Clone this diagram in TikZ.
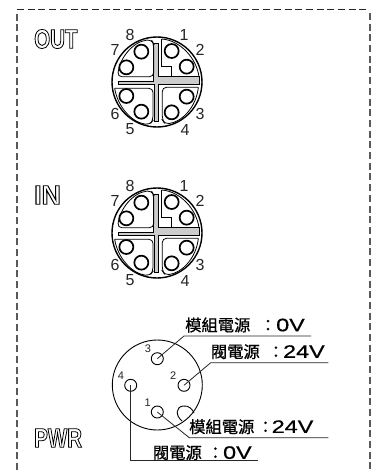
\documentclass[tikz,border=0pt]{standalone}
\usepackage{fontspec}
\setmainfont{Liberation Sans}
\newfontfamily\cjkf{Noto Sans CJK TC}
\newfontfamily\widef[FakeStretch=1.3]{Liberation Sans}
\newfontfamily\boldf[FakeStretch=0.76]{Liberation Sans Bold}
\newcommand{\outl}[1]{\special{pdf:code 1 Tr 0.8 w}#1\special{pdf:code 0 Tr 1 w}}
\newcommand{\heavy}[1]{\special{pdf:code 2 Tr 0.12 w}#1\special{pdf:code 0 Tr 1 w}}
\newcommand{\cj}[1]{{\cjkf\fontsize{16.3}{16}\selectfont\heavy{#1}}}
\newcommand{\lt}[1]{{\widef\fontsize{18}{17}\selectfont\heavy{#1}}}
\tikzset{
  conn/.style={draw=black,line width=0.8pt},
  ring/.style={draw=black,line width=1.4pt},
  pinpt/.style={circle,draw=black,line width=1.7pt,fill=white,minimum size=14pt,inner sep=0pt},
  num/.style={inner sep=0pt,font=\fontsize{16}{16}\selectfont,text=black!85},
  smallnum/.style={inner sep=0pt,font=\fontsize{11}{11}\selectfont,text=black!85},
  smallpin/.style={circle,draw=black,line width=0.9pt,minimum size=12pt,inner sep=0pt},
  lead/.style={draw=black!85,line width=0.8pt},
  labeltxt/.style={inner sep=0pt,anchor=west},
  badge/.style={inner sep=0pt,anchor=west,font=\boldf\fontsize{27}{27}\selectfont},
  frameh/.style={draw=black!85,line width=0.9pt,dash pattern=on 7pt off 3.7pt},
  framev/.style={draw=black!65,line width=1.5pt,dash pattern=on 7pt off 3.7pt}
}
\newcommand{\connector}[3]{%
  \begin{scope}[shift={(#1,#2)},x=0.3333pt,y=-0.3333pt]
    \draw[ring] (0,0) circle (135);
    \draw[line width=0.6pt,fill=black!20] (-117,-3) -- (-10,-3) -- (-10,-116) -- (3,-116) -- (3,-16) -- (128,-16) -- (128,6) -- (3,6) -- (3,118) -- (-8,118) -- (-8,8) -- (-117,8) -- cycle;
    % sector walls
    \draw[conn,rounded corners=4pt] (-118,-16) .. controls (-112,-72) and (-72,-122) .. (-17,-127) -- (-10,-115) -- (-10,-16) -- cycle;
    \draw[conn] (14,-129) -- (14,-46) -- (44,-46) -- (44,-16) -- (126,-16);
    \draw[conn] (14,-129) .. controls (70,-125) and (118,-72) .. (126,-16);
    \draw[conn,rounded corners=4pt] (-127,19) -- (-12,19) -- (-12,115) -- (-22,128) .. controls (-75,122) and (-118,75) .. (-127,19);
    \draw[conn,rounded corners=4pt] (124,16) -- (16,16) -- (16,114) -- (24,126) .. controls (75,120) and (118,75) .. (124,16);
    \foreach \a/\b/\n in {44/-93/a,89/-46/b,89/44/c,44/91/d,-47/89/e,-92/42/f,-92/-44/g,-47/-91/h}
      \node[pinpt] (#3\n) at (\a,\b) {};
  \end{scope}
  \begin{scope}[shift={(#1,#2)}]
    \node[num] (#3n8) at (-27,-47.5) {8};
    \node[num] (#3n1) at (27,-47.5) {1};
    \node[num] (#3n7) at (-42,-32) {7};
    \node[num] (#3n2) at (43,-32) {2};
    \node[num] (#3n6) at (-42,32) {6};
    \node[num] (#3n3) at (43,32) {3};
    \node[num] (#3n5) at (-27,47.5) {5};
    \node[num] (#3n4) at (28,47.5) {4};
  \end{scope}
}
\begin{document}
\begin{tikzpicture}[x=1pt,y=-1pt]
\useasboundingbox (0,0) rectangle (372,470);
\fill[white] (0,0) rectangle (372,470);
\draw[frameh] (17,9) -- (370,9);
\draw[framev] (17,470) -- (17,11);
\draw[framev] (370,13) -- (370,470);

\node[badge] (lout) at (34,39) {\outl{OUT}};
\node[badge] (lin) at (34,195) {\outl{\scalebox{1.3}[1]{IN}}};
\node[badge] (lpwr) at (34,438) {\outl{PWR}};

\connector{157}{82}{o}
\connector{157}{233}{i}

% PWR connector
\draw[line width=0.9pt] (157.3,385) circle (45);
\node[smallpin] (p3) at (157.3,358.7) {};
\node[smallpin] (p2) at (184,385.3) {};
\node[smallpin] (p1) at (157.3,412) {};
\node[smallpin] (p4) at (130.7,385.3) {};
\draw[line width=0.9pt] (182,421) .. controls (175,415) and (176,407) .. (183,406) .. controls (189,405) and (193,410) .. (194,413);
\node[smallnum] (np3) at (148,349) {3};
\node[smallnum] (np2) at (173.3,375.7) {2};
\node[smallnum] (np4) at (121,375.7) {4};
\node[smallnum] (np1) at (147.7,402.7) {1};

\coordinate (e3) at (311,336);
\coordinate (e2) at (328.3,362.7);
\coordinate (e1) at (328.3,437.7);
\coordinate (e4) at (258.3,460.7);
\draw[lead] (p3.center) -- (184,336) -- (e3);
\draw[lead] (p2.center) -- (210.7,362.7) -- (e2);
\draw[lead] (p1.center) -- (189.3,437.7) -- (e1);
\draw[lead] (p4.center) -- (130.7,460.7) -- (e4);

\node[labeltxt] (t3) at (185,325) {\cj{模組電源}\hspace{9.5pt}\cj{：}\hspace{0pt}\lt{0V}};
\node[labeltxt] (t2) at (210.7,351.7) {\cj{閥電源}\hspace{8pt}\cj{：}\hspace{-1pt}\lt{24V}};
\node[labeltxt] (t1) at (189,426.7) {\cj{模組電源}\hspace{3pt}\cj{：}\hspace{-2pt}\lt{24V}};
\node[labeltxt] (t4) at (152.7,452.7) {\cj{閥電源}\hspace{5.5pt}\cj{：}\hspace{-0.5pt}\lt{0V}};
\end{tikzpicture}
\end{document}
